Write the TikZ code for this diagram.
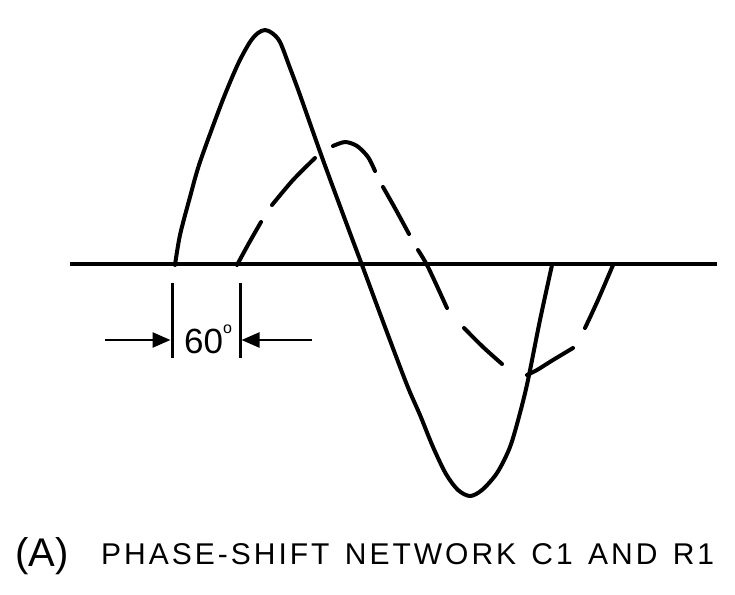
\documentclass[tikz,border=0pt]{standalone}
\usepackage{fontspec}
\setmainfont{Liberation Sans}
\newfontfamily\capfont[LetterSpace=10,WordSpace=1.35]{Liberation Sans}
\usetikzlibrary{arrows.meta}
\begin{document}
\begin{tikzpicture}[x=1pt,y=-1pt,
  wave/.style={line width=4pt,line cap=round,line join=round},
  dashseg/.style={line width=4pt,line cap=round},
  axisline/.style={line width=4.5pt},
  bar/.style={line width=3pt},
  dimarrow/.style={line width=2.5pt,-{Triangle[length=18pt,width=15pt]}},
  txt/.style={inner sep=0pt,anchor=base west}]
\useasboundingbox (0,0) rectangle (735,594);
% axis
\coordinate (axL) at (70,264);
\coordinate (axR) at (717,264);
\draw[axisline] (axL) -- (axR);
% solid wave
\draw[wave] plot[smooth,tension=0.5] coordinates {
 (175,265) (180,235) (190,197) (200,162) (222,102) (238,64) (250,42)
 (258,33) (265,30) (272,33) (280,42) (290,68) (300,95) (323,160)
 (350,233) (362,265) (385,327) (407,385) (420,415) (433,447) (446,474)
 (458,490) (470,496) (482,490) (497,473) (510,447) (520,413) (528,380)
 (540,320) (552,265)};
% dashed wave (individual dashes)
\draw[dashseg] plot[smooth] coordinates {(237,265) (249,243) (261,222)};
\draw[dashseg] plot[smooth] coordinates {(272,205) (293,180) (315,158)};
\draw[dashseg] plot[smooth] coordinates {(333,146) (345,142) (357,146) (368,157) (375,171)};
\draw[dashseg] plot[smooth] coordinates {(383,187) (396,210) (409,234)};
\draw[dashseg] plot[smooth] coordinates {(418,250) (428,267) (447,308)};
\draw[dashseg] plot[smooth] coordinates {(464,328) (483,347) (502,364)};
\draw[dashseg] plot[smooth] coordinates {(527,375) (537,370) (553,360) (573,348)};
\draw[dashseg] plot[smooth] coordinates {(585,328) (598,300) (613,265)};
% 60 degree marker
\coordinate (b1t) at (172,283);
\coordinate (b1b) at (172,358);
\coordinate (b2t) at (240,283);
\coordinate (b2b) at (240,358);
\draw[bar] (b1t) -- (b1b);
\draw[bar] (b2t) -- (b2b);
\coordinate (la) at (105,340);
\coordinate (lt) at (170.5,340);
\coordinate (ra) at (312,340);
\coordinate (rt) at (241.5,340);
\draw[dimarrow] (la) -- (lt);
\draw[dimarrow] (ra) -- (rt);
\node[txt,font=\fontsize{35}{35}\selectfont] (deg) at (184,353)
  {60\raisebox{20pt}{\fontsize{16}{16}\selectfont o}};
% caption
\node[txt,font=\fontsize{40}{40}\selectfont] (lblA) at (15,566) {(A)};
\node[txt,font=\capfont\fontsize{30}{30}\selectfont] (cap) at (101,564)
  {PHASE-SHIFT NETWORK C1 AND R1};
\end{tikzpicture}
\end{document}
